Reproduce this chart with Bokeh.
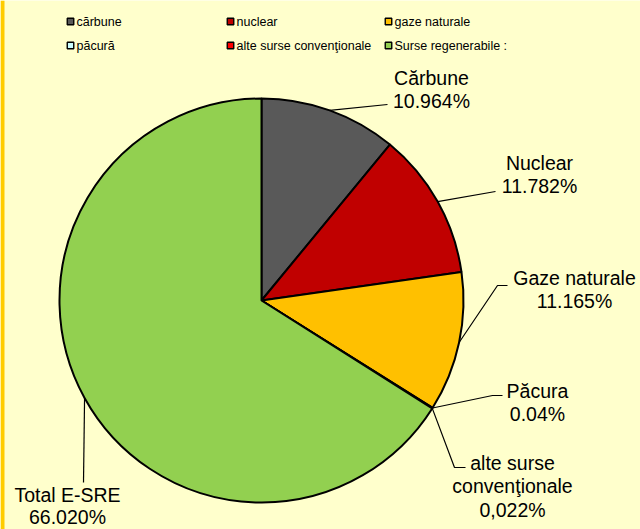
import math
from bokeh.plotting import figure
from bokeh.models import Range1d, ColumnDataSource
from bokeh.core.properties import value
from bokeh.embed import file_html
from bokeh.resources import INLINE

# ---- data ----
legend_labels = ["cărbune", "nuclear", "gaze naturale", "păcură",
                 "alte surse convenţionale", "Surse regenerabile :"]
slice_names = ["Cărbune", "Nuclear", "Gaze naturale", "Păcura",
               "alte surse\nconvenţionale", "Total E-SRE"]
shares = [10.964, 11.782, 11.165, 0.04, 0.022, 66.020]
share_texts = ["10.964%", "11.782%", "11.165%", "0.04%", "0,022%", "66.020%"]
colors = ["#595959", "#C00000", "#FFC000", "#CCFFFF", "#FF0000", "#92D050"]

# ---- layout (picture pixel coords, y measured from top) ----
W, H = 640, 529
def Y(py):
    return H - py

CX, CY, R = 261, Y(300), 202
FONT = value("Liberation Sans")

# label centre positions (x, first-line y, line step) and leader elbow points
label_pos = [(431, 77, 23.5), (539, 162, 23.5), (574, 277, 23.5),
             (537, 390, 23.5), (512, 462, 23.5), (67, 494, 22.5)]
leader_pts = [
    [(387, 104)],
    [(495, 191)],
    [(497, 285), (507, 285)],
    [(492, 395), (502, 395)],
    [(454, 467), (465, 467)],
    [(83, 482)],
]
legend_pos = [(70, 21), (230, 21), (388, 21), (70, 45), (230, 45), (388, 45)]

p = figure(width=W, height=H, x_range=Range1d(0, W), y_range=Range1d(0, H),
           x_axis_type=None, y_axis_type=None, output_backend="svg",
           toolbar_location=None, min_border=0,
           background_fill_color="#FFFFCC", border_fill_color="#FFFFCC",
           outline_line_color=None)
p.grid.visible = False

# left yellow border strip
p.quad(left=0, right=4, bottom=0, top=H, fill_color="#FFCC00", line_color=None)

# ---- pie ----
total = sum(shares)
starts, ends = [], []
cum = 0.0
for s in shares:
    starts.append(math.pi / 2 - 2 * math.pi * cum / total)
    cum += s
    ends.append(math.pi / 2 - 2 * math.pi * cum / total)

src = ColumnDataSource(dict(start=starts, end=ends, color=colors))
p.wedge(x=CX, y=CY, radius=R, start_angle="start", end_angle="end",
        direction="clock", fill_color="color", line_color="black",
        line_width=2, source=src)

# ---- leader lines and labels ----
for i in range(len(shares)):
    mid = (starts[i] + ends[i]) / 2
    sx = CX + R * math.cos(mid)
    sy = CY + R * math.sin(mid)
    xs = [sx] + [pt[0] for pt in leader_pts[i]]
    ys = [sy] + [Y(pt[1]) for pt in leader_pts[i]]
    p.line(xs, ys, line_color="black", line_width=1.2)

    lines = slice_names[i].split("\n") + [share_texts[i]]
    lx, ly, step = label_pos[i]
    for j, t in enumerate(lines):
        p.text(x=[lx], y=[Y(ly + step * j)], text=[t], text_font=FONT,
               text_font_size="19.5px", text_align="center",
               text_baseline="middle", text_color="#000000")

# ---- legend ----
for i, lab in enumerate(legend_labels):
    mx, my = legend_pos[i]
    p.rect(x=[mx], y=[Y(my)], width=6.5, height=6.5, fill_color=colors[i],
           line_color="black", line_width=1.4)
    p.text(x=[mx + 6], y=[Y(my)], text=[lab], text_font=FONT,
           text_font_size="12.5px", text_align="left",
           text_baseline="middle", text_color="#000000")

open("out.html", "w").write(file_html(p, INLINE))
